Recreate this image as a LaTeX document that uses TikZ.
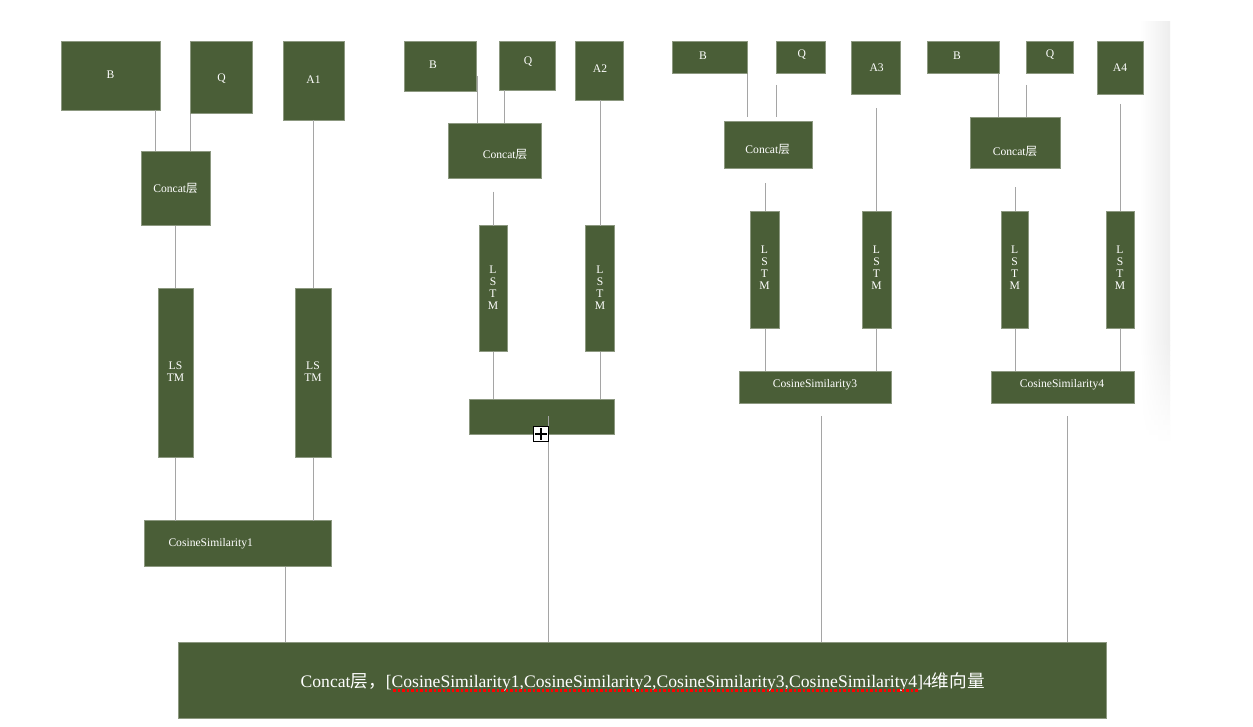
\documentclass[tikz,border=0pt]{standalone}
\usepackage{fontspec}
\setmainfont{Liberation Serif}
\newfontfamily\cjk{Noto Sans CJK SC}
\definecolor{boxgreen}{RGB}{74,94,55}
\definecolor{boxedge}{RGB}{140,152,128}
\definecolor{linegray}{RGB}{165,165,165}
\tikzset{
  gbox/.style={fill=boxgreen, draw=boxedge, line width=0.6pt, inner sep=0pt, outer sep=0pt},
  lbl/.style={text=white, font=\fontsize{11.6}{12}\selectfont, inner sep=0pt, align=center},
  biglbl/.style={text=white, font=\fontsize{17.6}{20}\selectfont, inner sep=0pt},
  ln/.style={draw=linegray, line width=0.8pt},
}
\newcommand\gb[5]{\node[gbox, minimum width={#4-#2}, minimum height={#5-#3}] (#1) at ({(#2+#4)/2},{(#3+#5)/2}) {};}
\begin{document}
\begin{tikzpicture}[x=1pt,y=-1pt]
\useasboundingbox (0,0) rectangle (1253,727);
\fill[white] (0,0) rectangle (1253,727);
% right side shadow band
\fill[left color=white, right color=black!7, draw=none] (1140,22) rectangle (1170,340.5);
\foreach \i in {0,...,19}{
  \pgfmathsetmacro\pc{7*(1-(\i+1)/21)}
  \fill[left color=white, right color=black!\pc, draw=none]
    (1140,{340+5*\i}) rectangle (1170,{345.5+5*\i});
}

% ---------- boxes ----------
% group 1
\gb{B1}{61}{41}{160}{110}
\gb{Q1}{190}{41}{252}{113.7}
\gb{A1}{283}{41}{344}{120}
\gb{C1}{141}{151}{210}{225.7}
\gb{L1a}{158}{288}{193}{457.7}
\gb{L1b}{295}{288}{331.3}{457.7}
\gb{S1}{144.3}{520.7}{331.3}{566.7}
% group 2
\gb{B2}{404}{41.7}{476.7}{91.7}
\gb{Q2}{499}{41.7}{555.3}{90.3}
\gb{A2}{575.7}{41.7}{623.3}{100}
\gb{C2}{448}{123.3}{541}{178.7}
\gb{L2a}{479}{225.7}{507}{351.7}
\gb{L2b}{585.3}{225.7}{614}{351.7}
\gb{S2}{469}{399}{614}{434}
% group 3
\gb{B3}{672}{41.7}{747.7}{73.7}
\gb{Q3}{776.3}{41.7}{825.7}{73.7}
\gb{A3}{851.3}{41.7}{900.7}{94.7}
\gb{C3}{724.3}{121}{812}{168.7}
\gb{L3a}{750}{211}{779}{328.7}
\gb{L3b}{862}{211}{891}{328.7}
\gb{S3}{739}{371.3}{891}{403.7}
% group 4
\gb{B4}{927}{41.7}{999}{73.7}
\gb{Q4}{1026}{41.7}{1073}{73.7}
\gb{A4}{1097}{41.7}{1143.7}{94.7}
\gb{C4}{970}{117.3}{1060}{168.7}
\gb{L4a}{1001.3}{211}{1028}{328.7}
\gb{L4b}{1106.3}{211}{1134}{328.7}
\gb{S4}{991}{371.3}{1134}{403.7}
% final
\gb{Big}{178}{642.3}{1106.7}{718.7}

% ---------- labels ----------
\node[lbl] (B1t) at (110.5,75) {B};
\node[lbl] (Q1t) at (221.5,79) {Q};
\node[lbl] (A1t) at (313.5,80) {A1};
\node[lbl] (C1t) at (175.5,188) {Concat{\cjk 层}};
\node[lbl] (L1at) at (175.5,372) {LS\\TM};
\node[lbl] (L1bt) at (313,372) {LS\\TM};
\node[lbl, anchor=west] (S1t) at (168.3,543.5) {CosineSimilarity1};

\node[lbl] (B2t) at (433,65) {B};
\node[lbl] (Q2t) at (528,62) {Q};
\node[lbl] (A2t) at (600,69) {A2};
\node[lbl] (C2t) at (505,154) {Concat{\cjk 层}};
\node[lbl] (L2at) at (493,288) {L\\S\\T\\M};
\node[lbl] (L2bt) at (600,288) {L\\S\\T\\M};

\node[lbl] (B3t) at (703,56) {B};
\node[lbl] (Q3t) at (801.7,55) {Q};
\node[lbl] (A3t) at (876.7,68) {A3};
\node[lbl] (C3t) at (767.7,149) {Concat{\cjk 层}};
\node[lbl] (L3at) at (764.5,268) {L\\S\\T\\M};
\node[lbl] (L3bt) at (876.5,268) {L\\S\\T\\M};
\node[lbl] (S3t) at (815,385) {CosineSimilarity3};

\node[lbl] (B4t) at (957,56) {B};
\node[lbl] (Q4t) at (1050,55) {Q};
\node[lbl] (A4t) at (1120,68) {A4};
\node[lbl] (C4t) at (1015,151) {Concat{\cjk 层}};
\node[lbl] (L4at) at (1014.7,268) {L\\S\\T\\M};
\node[lbl] (L4bt) at (1120,268) {L\\S\\T\\M};
\node[lbl] (S4t) at (1062,385) {CosineSimilarity4};

\node[biglbl, anchor=base west] (Bigt) at (300.5,687) {Concat{\cjk 层，}[CosineSimilarity1,CosineSimilarity2,CosineSimilarity3,CosineSimilarity4]4{\cjk 维向量}};
\draw[red, line width=2.2pt, dash pattern=on 2.5pt off 2pt] (393,690.5) -- (919,690.5);

% ---------- connectors ----------
% group 1
\draw[ln] (B1.south -| 155.3,0) -- (C1.north -| 155.3,0);
\draw[ln] (Q1.south -| 190.5,0) -- (C1.north -| 190.5,0);
\draw[ln] (A1.south -| 313.3,0) -- (L1b.north -| 313.3,0);
\draw[ln] (C1.south -| 175.3,0) -- (L1a.north -| 175.3,0);
\draw[ln] (L1a.south -| 175.3,0) -- (S1.north -| 175.3,0);
\draw[ln] (L1b.south -| 313.3,0) -- (S1.north -| 313.3,0);
\draw[ln] (S1.south -| 285.5,0) -- (Big.north -| 285.5,0);
% group 2
\draw[ln, shorten <=-15.7pt] (B2.south -| 477.3,0) -- (C2.north -| 477.3,0);
\draw[ln] (Q2.south -| 504.3,0) -- (C2.north -| 504.3,0);
\draw[ln] (A2.south -| 600.3,0) -- (L2b.north -| 600.3,0);
\draw[ln, shorten <=13pt] (C2.south -| 493.3,0) -- (L2a.north -| 493.3,0);
\draw[ln] (L2a.south -| 493.3,0) -- (S2.north -| 493.3,0);
\draw[ln] (L2b.south -| 600.3,0) -- (S2.north -| 600.3,0);
\draw[ln, shorten <=-18pt] (S2.south -| 548.3,0) -- (Big.north -| 548.3,0);
% group 3
\draw[ln, shorten >=4.3pt] (B3.south -| 747.7,0) -- (C3.north -| 747.7,0);
\draw[ln, shorten <=11.3pt, shorten >=4.3pt] (Q3.south -| 776.3,0) -- (C3.north -| 776.3,0);
\draw[ln, shorten <=13.6pt] (A3.south -| 876.3,0) -- (L3b.north -| 876.3,0);
\draw[ln, shorten <=14.6pt] (C3.south -| 765.3,0) -- (L3a.north -| 765.3,0);
\draw[ln] (L3a.south -| 765.3,0) -- (S3.north -| 765.3,0);
\draw[ln] (L3b.south -| 876.3,0) -- (S3.north -| 876.3,0);
\draw[ln, shorten <=12.3pt] (S3.south -| 821.3,0) -- (Big.north -| 821.3,0);
% group 4
\draw[ln] (B4.south -| 998.7,0) -- (C4.north -| 998.7,0);
\draw[ln, shorten <=11.3pt] (Q4.south -| 1026.3,0) -- (C4.north -| 1026.3,0);
\draw[ln, shorten <=9.3pt] (A4.south -| 1120.3,0) -- (L4b.north -| 1120.3,0);
\draw[ln, shorten <=18.6pt] (C4.south -| 1015.3,0) -- (L4a.north -| 1015.3,0);
\draw[ln] (L4a.south -| 1015.3,0) -- (S4.north -| 1015.3,0);
\draw[ln] (L4b.south -| 1120.3,0) -- (S4.north -| 1120.3,0);
\draw[ln, shorten <=12.3pt] (S4.south -| 1067.3,0) -- (Big.north -| 1067.3,0);

% plus marker
\node[draw=black, fill=white, line width=1.2pt, minimum size=15pt, inner sep=0pt] (plus) at (541,434) {};
\draw[line width=1.4pt] ([yshift=-2pt]plus.north) -- ([yshift=2pt]plus.south);
\draw[line width=1.4pt] ([xshift=2pt]plus.west) -- ([xshift=-2pt]plus.east);
\end{tikzpicture}
\end{document}
